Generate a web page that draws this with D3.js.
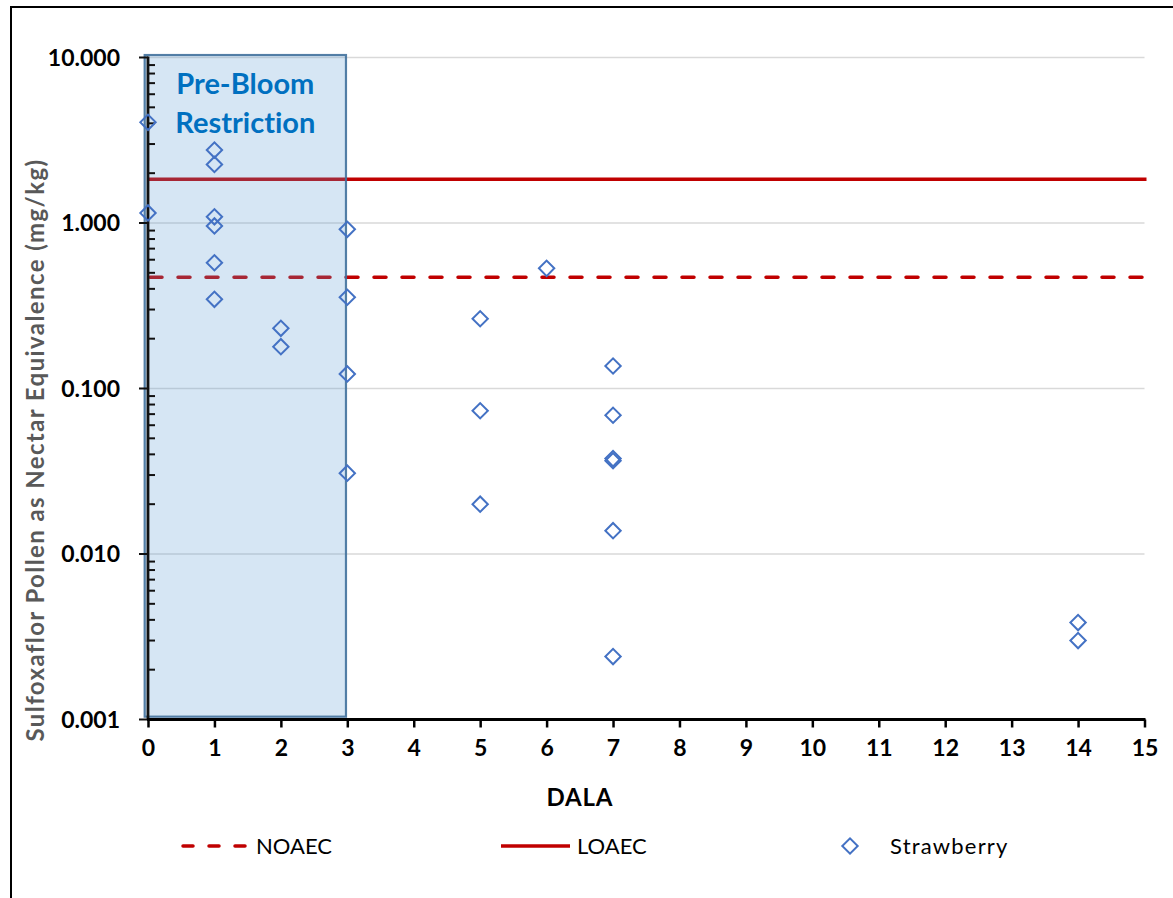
<!DOCTYPE html>
<html>
<head>
<meta charset="utf-8">
<script src="https://cdn.jsdelivr.net/npm/d3@7"></script>
<style>
  html, body { margin: 0; padding: 0; background: #fff; }
  svg { display: block; font-family: Lato, "Open Sans", sans-serif; font-variant-ligatures: none; }
</style>
</head>
<body>
<svg id="chart" width="1173" height="898"></svg>
<script>
// Days after last application (DALA) and residues for each strawberry sample
const dala = [0, 0, 1, 1, 1, 1, 1, 1, 2, 2, 3, 3, 3, 3, 5, 5, 5, 6, 7, 7, 7, 7, 7, 7, 14, 14];
const strawberry = [4.06, 1.15, 2.76, 2.26, 1.09, 0.96, 0.575, 0.346, 0.231, 0.179,
                    0.916, 0.356, 0.1225, 0.0308, 0.264, 0.0734, 0.0200, 0.532,
                    0.1368, 0.0689, 0.0377, 0.0366, 0.01384, 0.0024, 0.00385, 0.0030];

// Effect thresholds (mg/kg)
const noaec = 0.47;
const loaec = 1.84;

// Pre-bloom restriction window
const preBloomDala = [-0.05, 2.98];
const preBloomRange = [0.00104, 10.35];
const preBloomLabel = ["Pre-Bloom", "Restriction"];

// Axis ticks
const xTicks = d3.range(0, 16);
const yTicks = [0.001, 0.01, 0.1, 1, 10];

const legendItems = ["NOAEC", "LOAEC", "Strawberry"];

const svg = d3.select("#chart");

const x = d3.scaleLinear().domain([0, 15]).range([148, 1144.5]);
const y = d3.scaleLog().domain([0.001, 10]).range([719.5, 57.5]);

// Outer frame (runs past the right and bottom edges)
svg.append("rect")
  .attr("x", 11).attr("y", 7)
  .attr("width", 1300).attr("height", 1000)
  .attr("fill", "none").attr("stroke", "#000").attr("stroke-width", 2);

// Horizontal gridlines at each decade
svg.append("g").selectAll("line")
  .data(yTicks.slice(1))
  .join("line")
  .attr("x1", x(0)).attr("x2", x(15))
  .attr("y1", d => y(d)).attr("y2", d => y(d))
  .attr("stroke", "#d9d9d9").attr("stroke-width", 1.5);

// Threshold lines
svg.append("line")
  .attr("x1", x(0)).attr("x2", x(15) + 2)
  .attr("y1", y(loaec)).attr("y2", y(loaec))
  .attr("stroke", "#c00000").attr("stroke-width", 3.5);

svg.append("line")
  .attr("x1", x(0) + 2).attr("x2", x(15))
  .attr("y1", y(noaec)).attr("y2", y(noaec))
  .attr("stroke", "#c00000").attr("stroke-width", 3.5)
  .attr("stroke-linecap", "round")
  .attr("stroke-dasharray", "12,16");

// Pre-bloom restriction shaded box
svg.append("rect")
  .attr("x", x(preBloomDala[0]))
  .attr("y", y(preBloomRange[1]))
  .attr("width", x(preBloomDala[1]) - x(preBloomDala[0]))
  .attr("height", y(preBloomRange[0]) - y(preBloomRange[1]))
  .attr("fill", "rgba(91,155,213,0.25)")
  .attr("stroke", "#41719c").attr("stroke-opacity", 0.9).attr("stroke-width", 2.2);

// Y axis: major ticks outside, minor ticks inside
const yAxisG = svg.append("g");
const minorTicks = [];
for (let e = -3; e < 1; e++) {
  for (let m = 2; m <= 9; m++) minorTicks.push(m * Math.pow(10, e));
}
yAxisG.selectAll("line.minor")
  .data(minorTicks)
  .join("line")
  .attr("class", "minor")
  .attr("x1", x(0)).attr("x2", x(0) + 7)
  .attr("y1", d => y(d)).attr("y2", d => y(d))
  .attr("stroke", "#111").attr("stroke-width", 2);
yAxisG.selectAll("line.major")
  .data(yTicks)
  .join("line")
  .attr("class", "major")
  .attr("x1", x(0) - 9).attr("x2", x(0))
  .attr("y1", d => y(d)).attr("y2", d => y(d))
  .attr("stroke", "#111").attr("stroke-width", 2);
yAxisG.append("line")
  .attr("x1", x(0)).attr("x2", x(0))
  .attr("y1", y(10) - 1).attr("y2", y(0.001))
  .attr("stroke", "#111").attr("stroke-width", 2.8);
yAxisG.selectAll("text")
  .data(yTicks)
  .join("text")
  .attr("x", 120).attr("y", d => y(d) + 8)
  .attr("text-anchor", "end")
  .attr("font-size", 23).attr("font-weight", 700).attr("fill", "#000")
  .text(d => d3.format(".3f")(d));

// X axis
const xAxis = d3.axisBottom(x).tickValues(xTicks).tickSize(8).tickPadding(12).tickFormat(d3.format("d"));
const xAxisG = svg.append("g")
  .attr("transform", `translate(0,${y(0.001)})`)
  .call(xAxis);
xAxisG.select(".domain")
  .attr("d", `M${x(0) - 1},0H${x(15) + 1}`)
  .attr("stroke", "#000").attr("stroke-width", 2.8);
xAxisG.selectAll(".tick line").attr("stroke", "#000").attr("stroke-width", 2.5);
xAxisG.selectAll(".tick text")
  .attr("font-family", "Lato, sans-serif")
  .attr("font-size", 23).attr("font-weight", 700).attr("fill", "#000");

// Axis titles
svg.append("text")
  .attr("x", x(6.5)).attr("y", 806)
  .attr("text-anchor", "middle")
  .attr("font-size", 24).attr("font-weight", 700).attr("fill", "#000")
  .attr("letter-spacing", 0.8)
  .text("DALA");

svg.append("text")
  .attr("transform", "translate(44,450) rotate(-90)")
  .attr("text-anchor", "middle")
  .attr("font-size", 24).attr("font-weight", 700).attr("fill", "#595959")
  .attr("letter-spacing", 1.4)
  .text("Sulfoxaflor Pollen as Nectar Equivalence (mg/kg)");

// Pre-bloom label
svg.append("g").selectAll("text")
  .data(preBloomLabel)
  .join("text")
  .attr("x", (x(preBloomDala[0]) + x(preBloomDala[1])) / 2)
  .attr("y", (d, i) => 94 + i * 39)
  .attr("text-anchor", "middle")
  .attr("font-size", 29).attr("font-weight", 700).attr("fill", "#0070c0")
  .text(d => d);

// Strawberry samples as open diamonds
const diamond = d3.symbol().type(d3.symbolSquare).size(118);
svg.append("g").selectAll("path")
  .data(dala.map((d, i) => [d, strawberry[i]]))
  .join("path")
  .attr("d", diamond)
  .attr("transform", d => `translate(${x(d[0])},${y(d[1])}) rotate(45)`)
  .attr("fill", "none").attr("stroke", "#4472c4").attr("stroke-width", 2);

// Legend
const legendY = 846;
const lg = svg.append("g");
lg.append("line")
  .attr("x1", 183).attr("x2", 250).attr("y1", legendY).attr("y2", legendY)
  .attr("stroke", "#c00000").attr("stroke-width", 3.5)
  .attr("stroke-linecap", "round").attr("stroke-dasharray", "10,16");
lg.append("line")
  .attr("x1", 501).attr("x2", 570).attr("y1", legendY).attr("y2", legendY)
  .attr("stroke", "#c00000").attr("stroke-width", 3.5);
lg.append("path")
  .attr("d", diamond)
  .attr("transform", `translate(850,${legendY}) rotate(45)`)
  .attr("fill", "none").attr("stroke", "#4472c4").attr("stroke-width", 2);
lg.selectAll("text")
  .data(legendItems)
  .join("text")
  .attr("x", (d, i) => [256, 577, 890][i])
  .attr("y", legendY + 8)
  .attr("font-size", 22).attr("fill", "#000")
  .attr("letter-spacing", (d, i) => i === 2 ? 1.2 : 0)
  .text(d => d);
</script>
</body>
</html>
